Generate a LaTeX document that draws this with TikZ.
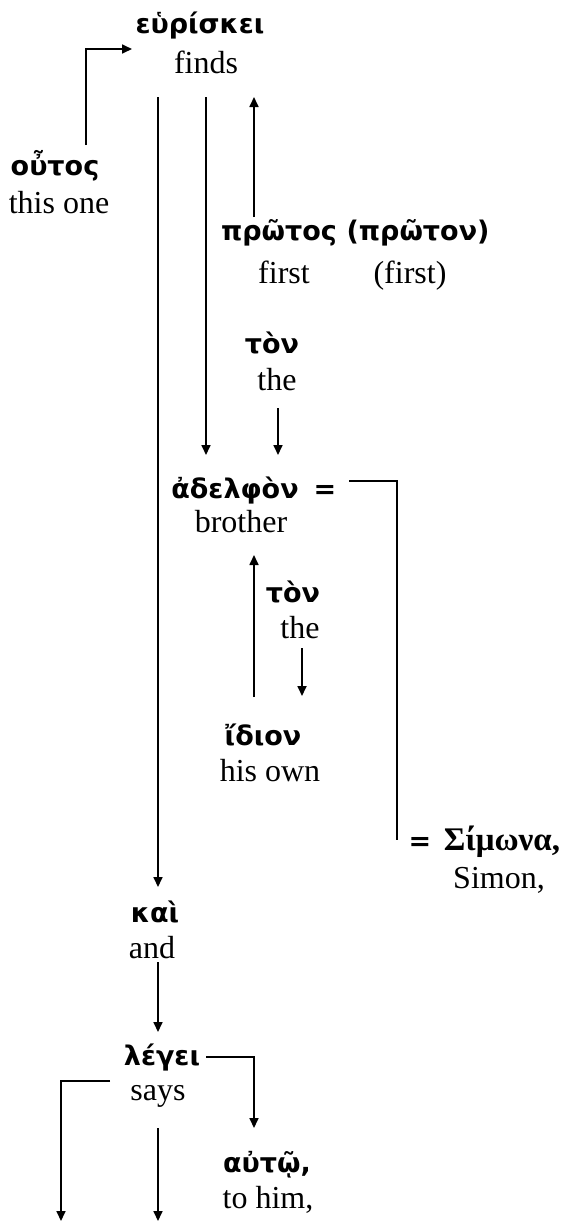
\documentclass[tikz,border=0pt]{standalone}
\usepackage{fontspec}
\setmainfont{Liberation Serif}
\newfontfamily\grk{DejaVu Sans}
\usetikzlibrary{arrows.meta}
\begin{document}
\begin{tikzpicture}[x=1pt,y=-1pt,
  gr/.style={font=\grk\bfseries\fontsize{27}{27}\selectfont, inner sep=0pt, anchor=base},
  grs/.style={font=\bfseries\fontsize{33}{33}\selectfont, inner sep=0pt, anchor=base},
  en/.style={font=\fontsize{32}{32}\selectfont, inner sep=0pt, anchor=base},
  conn/.style={line width=1.7pt, -{Triangle[length=10pt,width=9pt]}},
  plainline/.style={line width=1.7pt}]
\useasboundingbox (0,0) rectangle (568,1221);
% words
\node[gr] (heurisk) at (200,33) {εὑρίσκει};
\node[en] (finds) at (206,73) {finds};
\node[gr] (houtos) at (55,175) {οὖτος};
\node[en] (thisone) at (59,213) {this one};
\node[gr] (protos) at (279,240) {πρῶτος};
\node[gr] (proton) at (418,240) {(πρῶτον)};
\node[en] (first) at (284,283) {first};
\node[en] (first2) at (410,283) {(first)};
\node[gr] (ton1) at (272,353) {τὸν};
\node[en] (the1) at (277,390) {the};
\node[gr] (adelphon) at (235,498) {ἀδελφὸν};
\node[gr] (eq1) at (325,498) {=};
\node[en] (brother) at (241,532) {brother};
\node[gr] (ton2) at (293,602) {τὸν};
\node[en] (the2) at (300,638) {the};
\node[gr] (idion) at (263,745) {ἴδιον};
\node[en] (hisown) at (270,781) {his own};
\node[gr] (eq2) at (420,850) {=};
\node[grs] (simona) at (502,850) {Σίμωνα,};
\node[en] (simon) at (499,888) {Simon,};
\node[gr] (kai) at (155,922) {καὶ};
\node[en] (and) at (152,958) {and};
\node[gr] (legei) at (162,1065) {λέγει};
\node[en] (says) at (158,1100) {says};
\node[gr] (auto) at (267,1172) {αὐτῷ,};
\node[en] (tohim) at (268,1208) {to him,};
% connector end points
\coordinate (hA) at (86,145);
\coordinate (hB) at (132,49);
\coordinate (fL) at (158,97);
\coordinate (kT) at (158,887);
\coordinate (fM) at (206,97);
\coordinate (aL) at (206,455);
\coordinate (pB) at (254,217);
\coordinate (fR) at (254,97);
\coordinate (t1B) at (278,408);
\coordinate (aR) at (278,455);
\coordinate (eqR) at (349,481);
\coordinate (brk) at (397,481);
\coordinate (sT) at (397,840);
\coordinate (iT) at (254,697);
\coordinate (bB) at (254,555);
\coordinate (t2B) at (302,648);
\coordinate (iTop) at (302,696);
\coordinate (andB) at (158,962);
\coordinate (lT) at (158,1032);
\coordinate (lR) at (206,1057);
\coordinate (auT) at (254,1128);
\coordinate (sL) at (110,1081);
\coordinate (endL) at (61,1221);
\coordinate (sB) at (158,1128);
\coordinate (endM) at (158,1221);
% connectors
\draw[conn] (hA) |- (hB);
\draw[conn] (fL) -- (kT);
\draw[conn] (fM) -- (aL);
\draw[conn] (pB) -- (fR);
\draw[conn] (t1B) -- (aR);
\draw[plainline] (eqR) -- (brk) -- (sT);
\draw[conn] (iT) -- (bB);
\draw[conn] (t2B) -- (iTop);
\draw[conn] (andB) -- (lT);
\draw[conn] (lR) -| (auT);
\draw[conn] (sL) -| (endL);
\draw[conn] (sB) -- (endM);
\end{tikzpicture}
\end{document}
